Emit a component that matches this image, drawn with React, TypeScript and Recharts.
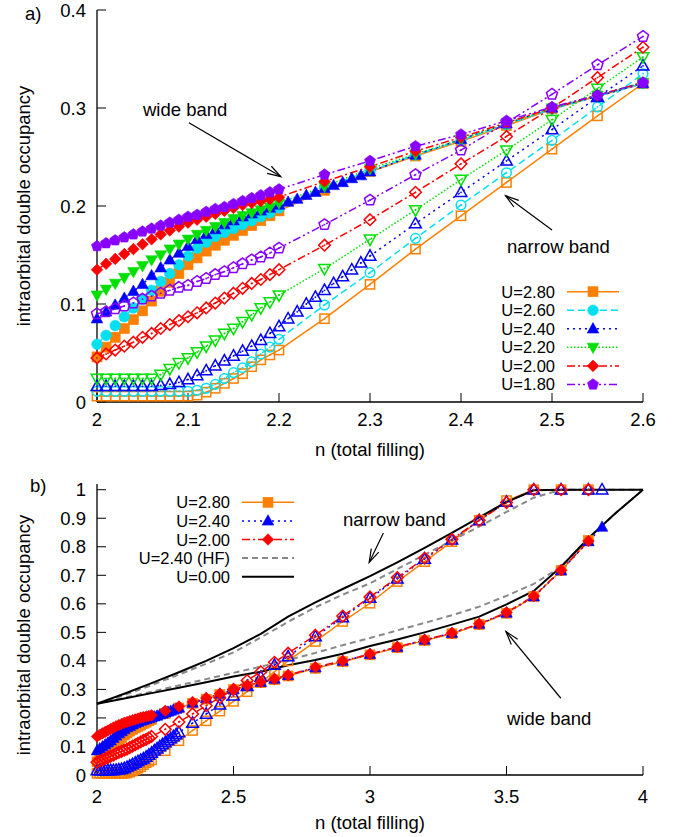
import React from 'react';
import { LineChart, Line, XAxis, YAxis, ReferenceLine } from 'recharts';

const FONT = '"Liberation Sans", Arial, Helvetica, sans-serif';
const FS = 18.5;
const LEGEND_FS = 16.5;

// ---- filling grids ----
const nFine = [2.0, 2.01, 2.02, 2.03, 2.04, 2.05, 2.06, 2.07, 2.08, 2.09, 2.1, 2.11, 2.12, 2.13, 2.14, 2.15, 2.16, 2.17, 2.18, 2.19, 2.2];
const nCoarse = [2.25, 2.3, 2.35, 2.4, 2.45, 2.5, 2.55, 2.6];
const nFine24 = [2.0, 2.01, 2.02, 2.03, 2.04, 2.05, 2.06, 2.07, 2.08, 2.09, 2.1, 2.11, 2.12, 2.13, 2.14, 2.15, 2.16, 2.17, 2.18, 2.19, 2.2, 2.21, 2.22, 2.23, 2.24, 2.25, 2.26, 2.27, 2.28, 2.29, 2.3];
const nCoarse24 = [2.35, 2.4, 2.45, 2.5, 2.55, 2.6];
const nTail = [2.65, 2.7, 2.8, 2.9, 3.0, 3.1, 3.2, 3.3, 3.4, 3.5, 3.6, 3.7, 3.8];
const nTail24 = [2.65, 2.7, 2.8, 2.9, 3.0, 3.1, 3.2, 3.3, 3.4, 3.5, 3.6, 3.7, 3.8, 3.85];
const nCurve = [2.0, 2.1, 2.2, 2.3, 2.4, 2.5, 2.6, 2.7, 2.8, 2.9, 3.0, 3.1, 3.2, 3.3, 3.4, 3.5, 3.6, 3.7, 3.8, 3.9, 4.0];

// ---- double occupancy, wide band (filled) / narrow band (open) ----
const wide280 = [0.046, 0.056, 0.066, 0.075, 0.084, 0.093, 0.103, 0.113, 0.122, 0.131, 0.14, 0.147, 0.154, 0.16, 0.165, 0.17, 0.175, 0.18, 0.185, 0.19, 0.195, 0.216, 0.235, 0.251, 0.266, 0.282, 0.299, 0.312, 0.325];
const narrow280 = [0.006, 0.006, 0.006, 0.006, 0.006, 0.006, 0.006, 0.006, 0.006, 0.006, 0.006, 0.007, 0.01, 0.014, 0.019, 0.024, 0.029, 0.036, 0.043, 0.048, 0.053, 0.085, 0.12, 0.156, 0.19, 0.224, 0.258, 0.292, 0.325];
const wide260 = [0.059, 0.068, 0.078, 0.087, 0.096, 0.105, 0.114, 0.123, 0.131, 0.14, 0.149, 0.157, 0.163, 0.169, 0.173, 0.177, 0.181, 0.185, 0.189, 0.193, 0.198, 0.219, 0.236, 0.252, 0.267, 0.283, 0.299, 0.312, 0.325];
const narrow260 = [0.011, 0.011, 0.011, 0.011, 0.011, 0.011, 0.011, 0.011, 0.011, 0.011, 0.011, 0.012, 0.014, 0.018, 0.024, 0.03, 0.035, 0.041, 0.049, 0.056, 0.064, 0.099, 0.132, 0.167, 0.201, 0.234, 0.267, 0.301, 0.335];
const wide240 = [0.085, 0.092, 0.099, 0.106, 0.113, 0.12, 0.129, 0.137, 0.145, 0.152, 0.159, 0.166, 0.171, 0.176, 0.181, 0.185, 0.189, 0.192, 0.195, 0.198, 0.201, 0.204, 0.207, 0.211, 0.214, 0.218, 0.221, 0.224, 0.228, 0.231, 0.235, 0.252, 0.268, 0.284, 0.3, 0.312, 0.325];
const narrow240 = [0.016, 0.016, 0.016, 0.016, 0.016, 0.016, 0.016, 0.017, 0.018, 0.02, 0.023, 0.027, 0.032, 0.037, 0.042, 0.047, 0.052, 0.057, 0.063, 0.07, 0.077, 0.085, 0.092, 0.1, 0.107, 0.114, 0.121, 0.128, 0.135, 0.142, 0.149, 0.182, 0.214, 0.246, 0.278, 0.311, 0.343];
const wide220 = [0.109, 0.115, 0.121, 0.127, 0.133, 0.139, 0.145, 0.15, 0.156, 0.161, 0.166, 0.171, 0.175, 0.179, 0.183, 0.187, 0.19, 0.193, 0.196, 0.199, 0.203, 0.22, 0.238, 0.253, 0.268, 0.284, 0.3, 0.313, 0.326];
const narrow220 = [0.024, 0.024, 0.024, 0.024, 0.024, 0.024, 0.024, 0.028, 0.034, 0.04, 0.045, 0.051, 0.057, 0.063, 0.07, 0.075, 0.082, 0.089, 0.096, 0.102, 0.109, 0.136, 0.166, 0.196, 0.227, 0.257, 0.288, 0.32, 0.352];
const wide200 = [0.135, 0.141, 0.146, 0.151, 0.156, 0.161, 0.166, 0.171, 0.175, 0.179, 0.183, 0.186, 0.189, 0.192, 0.195, 0.198, 0.201, 0.203, 0.205, 0.207, 0.209, 0.225, 0.24, 0.256, 0.27, 0.285, 0.3, 0.313, 0.326];
const narrow200 = [0.045, 0.049, 0.053, 0.057, 0.061, 0.066, 0.07, 0.075, 0.079, 0.083, 0.087, 0.091, 0.096, 0.101, 0.106, 0.111, 0.116, 0.121, 0.125, 0.13, 0.135, 0.16, 0.186, 0.214, 0.243, 0.271, 0.3, 0.331, 0.362];
const wide180 = [0.159, 0.162, 0.165, 0.168, 0.171, 0.174, 0.177, 0.18, 0.183, 0.186, 0.189, 0.191, 0.194, 0.197, 0.199, 0.202, 0.205, 0.208, 0.211, 0.214, 0.217, 0.232, 0.246, 0.261, 0.273, 0.287, 0.301, 0.313, 0.326];
const narrow180 = [0.09, 0.092, 0.095, 0.098, 0.101, 0.105, 0.108, 0.111, 0.114, 0.117, 0.119, 0.123, 0.126, 0.13, 0.133, 0.137, 0.141, 0.145, 0.148, 0.152, 0.157, 0.181, 0.206, 0.232, 0.257, 0.285, 0.314, 0.344, 0.373];

// panel b continuation beyond n = 2.6
const wide280Tail = [0.334, 0.347, 0.374, 0.397, 0.421, 0.446, 0.471, 0.495, 0.527, 0.567, 0.625, 0.717, 0.822];
const narrow280Tail = [0.362, 0.4, 0.468, 0.538, 0.602, 0.678, 0.748, 0.818, 0.893, 0.962, 1.0, 1.0, 1.0];
const wide240Tail = [0.336, 0.349, 0.376, 0.399, 0.423, 0.448, 0.473, 0.497, 0.529, 0.568, 0.625, 0.716, 0.818, 0.869];
const narrow240Tail = [0.385, 0.415, 0.485, 0.552, 0.62, 0.688, 0.757, 0.824, 0.892, 0.957, 1.0, 1.0, 1.0, 1.0];
const wide200Tail = [0.337, 0.35, 0.378, 0.4, 0.424, 0.449, 0.474, 0.498, 0.53, 0.57, 0.627, 0.718, 0.82];
const narrow200Tail = [0.395, 0.427, 0.49, 0.557, 0.624, 0.692, 0.76, 0.826, 0.893, 0.955, 1.0, 1.0, 1.0];

// U=0 and Hartree-Fock curves (panel b)
const u0Narrow = [0.25, 0.285, 0.322, 0.36, 0.4, 0.445, 0.495, 0.555, 0.605, 0.652, 0.697, 0.745, 0.796, 0.849, 0.903, 0.957, 0.998, 1.0, 1.0, 1.0, 1.0];
const u0Wide = [0.25, 0.268, 0.287, 0.306, 0.325, 0.345, 0.362, 0.385, 0.403, 0.425, 0.452, 0.475, 0.5, 0.527, 0.555, 0.598, 0.645, 0.73, 0.83, 0.918, 1.0];
const hfNarrow = [0.25, 0.28, 0.315, 0.352, 0.39, 0.43, 0.482, 0.537, 0.588, 0.632, 0.672, 0.722, 0.772, 0.822, 0.871, 0.922, 0.972, 1.0, 1.0, 1.0, 1.0];
const hfWide = [0.25, 0.271, 0.292, 0.314, 0.336, 0.358, 0.38, 0.403, 0.428, 0.455, 0.48, 0.507, 0.533, 0.56, 0.59, 0.628, 0.67, 0.73, 0.83, 0.918, 1.0];

const xTicksA = [2, 2.1, 2.2, 2.3, 2.4, 2.5, 2.6];
const yTicksA = [0, 0.1, 0.2, 0.3, 0.4];
const xTicksB = [2, 2.5, 3, 3.5, 4];
const yTicksB = [0, 0.1, 0.2, 0.3, 0.4, 0.5, 0.6, 0.7, 0.8, 0.9, 1];

type Shape = 'square' | 'circle' | 'tri' | 'tridown' | 'diamond' | 'pentagon';

const zip = (ns: number[], vs: number[]) => vs.map((v, i) => ({ n: ns[i], v }));

const nA = [...nFine, ...nCoarse];
const nA24 = [...nFine24, ...nCoarse24];

const seriesA = [
  { label: 'U=2.80', color: '#ff8000', dash: undefined, shape: 'square' as Shape, n: nA, wide: wide280, narrow: narrow280 },
  { label: 'U=2.60', color: '#00e0f0', dash: '7 4', shape: 'circle' as Shape, n: nA, wide: wide260, narrow: narrow260 },
  { label: 'U=2.40', color: '#0000ff', dash: '2 4', shape: 'tri' as Shape, n: nA24, wide: wide240, narrow: narrow240 },
  { label: 'U=2.20', color: '#00e000', dash: '1.5 2', shape: 'tridown' as Shape, n: nA, wide: wide220, narrow: narrow220 },
  { label: 'U=2.00', color: '#ff0000', dash: '8 3 2 3', shape: 'diamond' as Shape, n: nA, wide: wide200, narrow: narrow200 },
  { label: 'U=1.80', color: '#8800ff', dash: '8 3 2 3 2 3', shape: 'pentagon' as Shape, n: nA, wide: wide180, narrow: narrow180 },
];

const seriesB = [
  { ...seriesA[0], n: [...nA, ...nTail], wide: [...wide280, ...wide280Tail], narrow: [...narrow280, ...narrow280Tail] },
  { ...seriesA[2], n: [...nA24, ...nTail24], wide: [...wide240, ...wide240Tail], narrow: [...narrow240, ...narrow240Tail] },
  { ...seriesA[4], n: [...nA, ...nTail], wide: [...wide200, ...wide200Tail], narrow: [...narrow200, ...narrow200Tail] },
];

const curvesB = [
  { label: 'U=2.40 (HF)', color: '#888888', dash: '6 4', width: 2, wide: hfWide, narrow: hfNarrow },
  { label: 'U=0.00', color: '#000000', dash: undefined, width: 2, wide: u0Wide, narrow: u0Narrow },
];

function Marker({ shape, cx, cy, color, filled }: { shape: Shape; cx: number; cy: number; color: string; filled: boolean }) {
  if (cx == null || cy == null || isNaN(cx) || isNaN(cy)) return null;
  const st = filled
    ? { fill: color, stroke: color, strokeWidth: 0.6 }
    : { fill: 'none', stroke: color, strokeWidth: 1.5 };
  let el: React.ReactNode = null;
  const poly = (pts: number[][]) => <polygon points={pts.map((p) => `${cx + p[0]},${cy + p[1]}`).join(' ')} {...st} />;
  switch (shape) {
    case 'square': {
      const s = filled ? 5 : 4.6;
      el = <rect x={cx - s} y={cy - s} width={2 * s} height={2 * s} {...st} />;
      break;
    }
    case 'circle':
      el = <circle cx={cx} cy={cy} r={filled ? 5.3 : 4.8} {...st} />;
      break;
    case 'tri':
      el = poly([[0, -6.2], [5.8, 4.2], [-5.8, 4.2]]);
      break;
    case 'tridown':
      el = poly([[0, 6.2], [5.8, -4.2], [-5.8, -4.2]]);
      break;
    case 'diamond':
      el = poly([[0, -5.8], [5.8, 0], [0, 5.8], [-5.8, 0]]);
      break;
    case 'pentagon': {
      const r = 5.8;
      const pts = [0, 1, 2, 3, 4].map((k) => {
        const a = -Math.PI / 2 + (k * 2 * Math.PI) / 5;
        return [r * Math.cos(a), r * Math.sin(a)];
      });
      el = poly(pts);
      break;
    }
  }
  return (
    <g>
      {el}
      {!filled && <circle cx={cx} cy={cy} r={0.9} fill={color} />}
    </g>
  );
}

const dotFor = (shape: Shape, color: string, filled: boolean, id: string) => (p: any) => (
  <Marker key={`${id}-${p.index}`} shape={shape} color={color} filled={filled} cx={p.cx} cy={p.cy} />
);

const arrowShape = (p: any) => {
  const { x1, y1, x2, y2 } = p;
  const a = Math.atan2(y2 - y1, x2 - x1);
  const L = 14;
  const w = 0.3;
  const hx1 = x2 - L * Math.cos(a - w);
  const hy1 = y2 - L * Math.sin(a - w);
  const hx2 = x2 - L * Math.cos(a + w);
  const hy2 = y2 - L * Math.sin(a + w);
  return (
    <g>
      <line x1={x1} y1={y1} x2={x2} y2={y2} stroke="#000" strokeWidth={1.2} />
      <path d={`M${hx1},${hy1} L${x2},${y2} L${hx2},${hy2}`} fill="none" stroke="#000" strokeWidth={1.2} />
    </g>
  );
};

const tickStyle = { fill: '#000', fontSize: FS, fontFamily: FONT };

function Axes({ xDomain, yDomain, xTicks, yTicks, xMargin }: any) {
  return [
    <XAxis key="xb" xAxisId={0} type="number" dataKey="n" domain={xDomain} ticks={xTicks} interval={0} height={30}
      tickSize={-9} tickMargin={xMargin} stroke="#000" axisLine={{ strokeWidth: 1.3 }} tick={tickStyle} />,
    <XAxis key="xt" xAxisId="t" orientation="top" type="number" domain={xDomain} ticks={xTicks} interval={0} height={0}
      tickSize={-9} stroke="#000" axisLine={{ strokeWidth: 1.3 }} tick={false} allowDataOverflow />,
    <YAxis key="yl" yAxisId={0} type="number" domain={yDomain} ticks={yTicks} interval={0} width={97}
      tickSize={-9} tickMargin={20} stroke="#000" axisLine={{ strokeWidth: 1.3 }} tick={tickStyle} />,
    <YAxis key="yr" yAxisId="r" orientation="right" type="number" domain={yDomain} ticks={yTicks} interval={0} width={0}
      tickSize={-9} stroke="#000" axisLine={{ strokeWidth: 1.3 }} tick={false} allowDataOverflow />,
  ];
}

function seriesLines(list: any[], prefix: string, maxN: number) {
  const out: React.ReactNode[] = [];
  list.forEach((s) => {
    (['wide', 'narrow'] as const).forEach((br) => {
      const data = zip(s.n, s[br]).filter((d) => d.n <= maxN + 1e-9);
      const id = `${prefix}-${s.label}-${br}`;
      out.push(
        <Line key={id} data={data} dataKey="v" type="linear" stroke={s.color} strokeWidth={1.5}
          strokeDasharray={s.dash} dot={dotFor(s.shape, s.color, br === 'wide', id)} activeDot={false}
          isAnimationActive={false} />
      );
    });
  });
  return out;
}

function LegendRow({ x, y, label, color, dash, shape, width = 1.5 }: any) {
  return (
    <g>
      <text x={x} y={y} textAnchor="end" dominantBaseline="central" fontSize={LEGEND_FS} fontFamily={FONT}>{label}</text>
      <line x1={x + 12} x2={x + 64} y1={y} y2={y} stroke={color} strokeWidth={width} strokeDasharray={dash} />
      {shape && <Marker shape={shape} cx={x + 38} cy={y} color={color} filled />}
    </g>
  );
}

export default function App() {
  const txt = { fontSize: FS, fontFamily: FONT, fill: '#000' };
  return (
    <div style={{ position: 'absolute', left: 0, top: 0, width: 683, height: 837, background: '#fff' }}>
      <div style={{ position: 'absolute', left: 0, top: 0 }}>
        <LineChart width={683} height={460} margin={{ top: 10, right: 40, bottom: 28, left: 0 }}>
          {Axes({ xDomain: [2, 2.6], yDomain: [0, 0.4], xTicks: xTicksA, yTicks: yTicksA, xMargin: 20 })}
          {seriesLines(seriesA, 'a', 2.6)}
          <ReferenceLine segment={[{ x: 2.101, y: 0.285 }, { x: 2.202, y: 0.23 }]} shape={arrowShape} />
          <ReferenceLine segment={[{ x: 2.5, y: 0.1755 }, { x: 2.449, y: 0.2105 }]} shape={arrowShape} />
        </LineChart>
      </div>
      <div style={{ position: 'absolute', left: 0, top: 470 }}>
        <LineChart width={683} height={367} margin={{ top: 14, right: 40, bottom: 32, left: 0 }}>
          {Axes({ xDomain: [2, 4], yDomain: [0, 1.02], xTicks: xTicksB, yTicks: yTicksB, xMargin: 24 })}
          {seriesLines(seriesB, 'b', 4)}
          {curvesB.map((c) =>
            (['wide', 'narrow'] as const).map((br) => (
              <Line key={`c-${c.label}-${br}`} data={zip(nCurve, c[br])} dataKey="v" type="linear" stroke={c.color}
                strokeWidth={c.width} strokeDasharray={c.dash} dot={false} activeDot={false} isAnimationActive={false} />
            ))
          )}
          <ReferenceLine segment={[{ x: 3.049, y: 0.848 }, { x: 2.997, y: 0.745 }]} shape={arrowShape} />
          <ReferenceLine segment={[{ x: 3.699, y: 0.269 }, { x: 3.498, y: 0.503 }]} shape={arrowShape} />
        </LineChart>
      </div>
      <svg width={683} height={837} style={{ position: 'absolute', left: 0, top: 0, pointerEvents: 'none' }}>
        <text x={25} y={13} dominantBaseline="central" {...txt}>a)</text>
        <text x={30} y={485} dominantBaseline="central" {...txt}>b)</text>
        <text transform="translate(23,206) rotate(-90)" textAnchor="middle" dominantBaseline="central" {...txt}>intraorbital double occupancy</text>
        <text transform="translate(23,635) rotate(-90)" textAnchor="middle" dominantBaseline="central" {...txt}>intraorbital double occupancy</text>
        <text x={370} y={449} textAnchor="middle" dominantBaseline="central" {...txt}>n (total filling)</text>
        <text x={370} y={822} textAnchor="middle" dominantBaseline="central" {...txt}>n (total filling)</text>
        <text x={143} y={109} dominantBaseline="central" {...txt}>wide band</text>
        <text x={507} y={246} dominantBaseline="central" {...txt}>narrow band</text>
        <text x={343} y={519} dominantBaseline="central" {...txt}>narrow band</text>
        <text x={507} y={718} dominantBaseline="central" {...txt}>wide band</text>
        {seriesA.map((s, i) => (
          <LegendRow key={s.label} x={555} y={291.7 + i * 18.55} label={s.label} color={s.color} dash={s.dash} shape={s.shape} />
        ))}
        {seriesB.map((s, i) => (
          <LegendRow key={s.label} x={230} y={502.3 + i * 18.6} label={s.label} color={s.color} dash={s.dash} shape={s.shape} />
        ))}
        {curvesB.map((c, i) => (
          <LegendRow key={c.label} x={230} y={502.3 + (i + 3) * 18.6} label={c.label} color={c.color} dash={c.dash} width={c.width} />
        ))}
      </svg>
    </div>
  );
}
